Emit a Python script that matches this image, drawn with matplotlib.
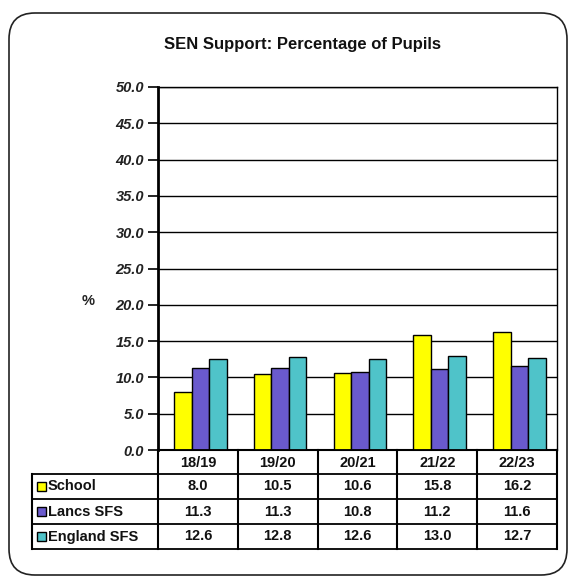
import matplotlib
matplotlib.use("Agg")
import matplotlib.pyplot as plt
import numpy as np
from matplotlib.patches import FancyBboxPatch, Rectangle
from matplotlib.lines import Line2D

plt.rcParams['font.family'] = ['Liberation Sans', 'DejaVu Sans']

years = ["18/19", "19/20", "20/21", "21/22", "22/23"]
series_names = ["School", "Lancs SFS", "England SFS"]
school = [8.0, 10.5, 10.6, 15.8, 16.2]
lancs = [11.3, 11.3, 10.8, 11.2, 11.6]
england = [12.6, 12.8, 12.6, 13.0, 12.7]
yticks = [0, 5, 10, 15, 20, 25, 30, 35, 40, 45, 50]

colors = ["#FFFF00", "#6A5ACD", "#4FC3C9"]
series = [school, lancs, england]

W, H = 576, 579
fig = plt.figure(figsize=(W / 100, H / 100), dpi=100)

def fx(px):
    return px / W

def fy(py):
    return 1 - py / H

# rounded outer border
border = FancyBboxPatch((fx(9), fy(575)), fx(558), (575 - 13) / H,
                        boxstyle="round,pad=0,rounding_size=0.045",
                        transform=fig.transFigure, fill=False, ec="#222222", lw=1.2)
fig.add_artist(border)

L, R, T, B = 158, 557, 87, 450
ax = fig.add_axes([fx(L), fy(B), fx(R - L), (B - T) / H])
x = np.arange(len(years))
bw = 0.22
for i, (vals, c) in enumerate(zip(series, colors)):
    ax.bar(x + (i - 1) * bw + 0.03, vals, bw, color=c, edgecolor="black", lw=1.0, zorder=3)

ax.set_xlim(-0.5, len(years) - 0.5)
ax.set_ylim(0, 50)
ax.set_yticks(yticks)
ax.set_yticklabels([f"{v:.1f}" for v in yticks], fontstyle="italic", fontweight="bold",
                   fontsize=10.5, color="#222222")
ax.tick_params(axis="y", length=7, width=1.2, direction="out", pad=3)
ax.set_xticks([])
ax.yaxis.grid(True, color="black", lw=1.0, zorder=0)
ax.set_axisbelow(True)
for s in ["top", "right"]:
    ax.spines[s].set_linewidth(1.0)
ax.spines["left"].set_linewidth(2.0)
ax.spines["bottom"].set_linewidth(1.5)

fig.text(fx(303), fy(45), "SEN Support: Percentage of Pupils", ha="center", va="center",
         fontsize=12, fontweight="bold", color="#111111")
fig.text(fx(88), fy(301), "%", ha="center", va="center", fontsize=10.5, fontweight="bold",
         color="#222222")

# data table
col_edges = [L + (R - L) * k / len(years) for k in range(len(years) + 1)]
row_edges = [B, 474, 499, 524, 549]
tl = 32

def hline(y, x0, x1, lw=1.3):
    fig.add_artist(Line2D([fx(x0), fx(x1)], [fy(y), fy(y)], color="black", lw=lw))

def vline(xp, y0, y1, lw=1.3):
    fig.add_artist(Line2D([fx(xp), fx(xp)], [fy(y0), fy(y1)], color="black", lw=lw))

hline(row_edges[0], L, R)
for y in row_edges[1:]:
    hline(y, tl, R)
for xp in col_edges:
    vline(xp, row_edges[0], row_edges[-1], lw=1.5)
vline(tl, row_edges[1], row_edges[-1], lw=1.5)

for j, yr in enumerate(years):
    cx = (col_edges[j] + col_edges[j + 1]) / 2
    fig.text(fx(cx), fy((row_edges[0] + row_edges[1]) / 2 + 1), yr, ha="center", va="center",
             fontsize=10.5, fontweight="bold", color="#111111")

for i, (name, vals, c) in enumerate(zip(series_names, series, colors)):
    cy = (row_edges[i + 1] + row_edges[i + 2]) / 2
    fig.add_artist(Rectangle((fx(37), fy(cy + 4.5)), fx(9), 9 / H, transform=fig.transFigure,
                             fc=c, ec="black", lw=1.0))
    fig.text(fx(48), fy(cy), name, ha="left", va="center", fontsize=10.5, fontweight="bold",
             color="#111111")
    for j, v in enumerate(vals):
        cx = (col_edges[j] + col_edges[j + 1]) / 2
        fig.text(fx(cx), fy(cy), f"{v:.1f}", ha="center", va="center", fontsize=10.5,
                 fontweight="bold", color="#111111")

fig.savefig("out.png", dpi=100)
